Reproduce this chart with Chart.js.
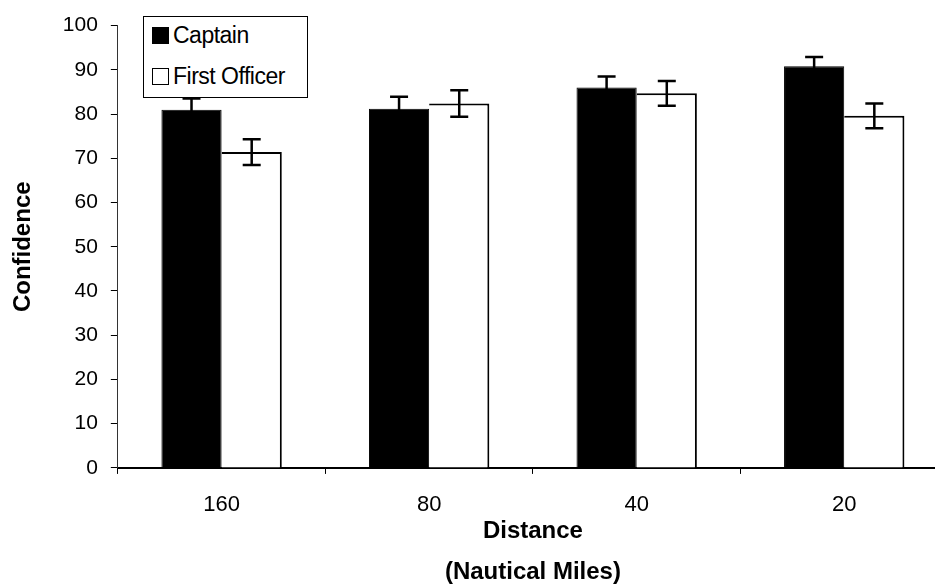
<!DOCTYPE html>
<html>
<head>
<meta charset="utf-8">
<script src="https://cdn.jsdelivr.net/npm/chart.js@4.4.1/dist/chart.umd.min.js"></script>
<style>
    html, body { margin: 0; padding: 0; background: #fff; }
    #wrap { position: relative; width: 935px; height: 587px; overflow: hidden; }
    #box { position: absolute; left: 0; top: 0; width: 960px; height: 587px; }
    #legend {
        position: absolute; left: 143px; top: 16px; width: 163px; height: 80px;
        border: 1px solid #000; background: #fff;
        font-family: 'Liberation Sans', Arial, sans-serif; font-size: 23px; color: #000;
        letter-spacing: -0.5px;
    }
    #legend .item { position: absolute; left: 8px; display: flex; align-items: center; line-height: 24px; }
    #legend .sw { width: 15px; height: 15px; border: 1.5px solid #000; margin-right: 4px; }
</style>
</head>
<body>
<div id="wrap">
    <div id="box"><canvas id="chart" width="960" height="587"></canvas></div>
    <div id="legend"></div>
</div>
<script>
const categories = ['160', '80', '40', '20'];
const seriesNames = ['Captain', 'First Officer'];
const captainValues = [81.0, 81.2, 86.0, 90.8];
const captainErrors = [2.5, 2.7, 2.5, 2.1];
const officerValues = [71.4, 82.4, 84.7, 79.6];
const officerErrors = [2.9, 3.0, 2.8, 2.8];
const yTicks = [0, 10, 20, 30, 40, 50, 60, 70, 80, 90, 100];

const fontFamily = "'Liberation Sans', Arial, sans-serif";

// legend (html overlay, sits inside the plot like the original)
const legendEl = document.getElementById('legend');
const fills = ['#000', '#fff'];
seriesNames.forEach((name, i) => {
    const item = document.createElement('div');
    item.className = 'item';
    item.style.top = (i === 0 ? 6 : 47) + 'px';
    item.innerHTML = `<span class="sw" style="background:${fills[i]}"></span><span>${name}</span>`;
    legendEl.appendChild(item);
});

// error bars drawn from the dataset values through the y scale
const errorBars = {
    id: 'errorBars',
    afterDatasetsDraw(chart) {
        const ctx = chart.ctx;
        const y = chart.scales.y;
        ctx.save();
        ctx.strokeStyle = '#000';
        ctx.lineWidth = 2.5;
        chart.data.datasets.forEach((ds, di) => {
            const meta = chart.getDatasetMeta(di);
            meta.data.forEach((bar, i) => {
                const v = ds.data[i];
                const e = ds.errors[i];
                const top = y.getPixelForValue(v + e);
                const bottom = y.getPixelForValue(v - e);
                const cap = 9;
                ctx.beginPath();
                ctx.moveTo(bar.x, top);
                ctx.lineTo(bar.x, bottom);
                ctx.moveTo(bar.x - cap, top);
                ctx.lineTo(bar.x + cap, top);
                ctx.moveTo(bar.x - cap, bottom);
                ctx.lineTo(bar.x + cap, bottom);
                ctx.stroke();
            });
        });
        ctx.restore();
    }
};

new Chart(document.getElementById('chart'), {
    type: 'bar',
    data: {
        labels: categories,
        datasets: [{
            label: seriesNames[0],
            data: captainValues,
            errors: captainErrors,
            backgroundColor: '#000',
            borderColor: '#000',
            borderWidth: 1
        }, {
            label: seriesNames[1],
            data: officerValues,
            errors: officerErrors,
            backgroundColor: '#fff',
            borderColor: '#000',
            borderWidth: { top: 2, right: 2, left: 0, bottom: 0 }
        }]
    },
    options: {
        responsive: false,
        animation: false,
        layout: { padding: { top: 22, right: 12, left: 9, bottom: 0 } },
        plugins: { legend: { display: false }, tooltip: { enabled: false } },
        datasets: { bar: { categoryPercentage: 0.58, barPercentage: 1.0 } },
        scales: {
            x: {
                grid: { drawOnChartArea: false, tickLength: 6, color: '#000', offset: true },
                border: { color: '#000', width: 2 },
                ticks: { color: '#000', padding: 20, font: { family: fontFamily, size: 22, lineHeight: 1 } },
                title: {
                    display: true,
                    text: ['Distance', '(Nautical Miles)'],
                    color: '#000',
                    padding: { top: -25.5, bottom: -5.5 },
                    font: { family: fontFamily, size: 24, weight: 'bold', lineHeight: 1.71 }
                }
            },
            y: {
                min: 0,
                max: 100,
                afterBuildTicks(scale) { scale.ticks = yTicks.map(v => ({ value: v })); },
                grid: { drawOnChartArea: false, tickLength: 7, color: '#000' },
                border: { color: '#333', width: 1 },
                ticks: { color: '#000', padding: 13, font: { family: fontFamily, size: 21 } },
                title: {
                    display: true,
                    text: 'Confidence',
                    color: '#000',
                    padding: { top: 0, bottom: 12 },
                    font: { family: fontFamily, size: 24, weight: 'bold' }
                }
            }
        }
    },
    plugins: [errorBars]
});
</script>
</body>
</html>
